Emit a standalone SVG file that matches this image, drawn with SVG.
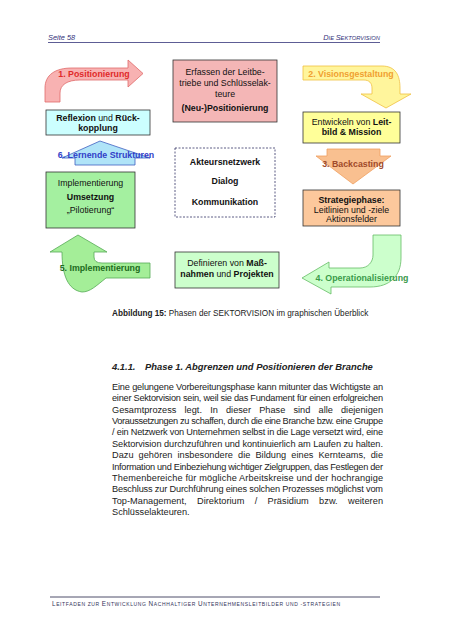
<svg xmlns="http://www.w3.org/2000/svg" width="452" height="640" viewBox="0 0 452 640">
<style>
text{font-family:"Liberation Sans",Arial,sans-serif}
.d{font-size:8.8px;fill:#111;text-anchor:middle}
.b{font-weight:bold}
.box{stroke:#333;stroke-width:0.8}
.lab{font-size:8.8px;font-weight:bold;text-anchor:middle}
.p{font-size:9.2px;fill:#222}
.hd{font-style:italic;fill:#33337a}
.ft{fill:#33335a}
</style>
<rect width="452" height="640" fill="#fff"/>

<g id="header">
<text class="hd" x="48" y="40" font-size="7.4">Seite 58</text>
<text class="hd" x="380" y="40" text-anchor="end" font-size="7.4">D<tspan font-size="5.8">IE </tspan>S<tspan font-size="5.8">EKTORVISION</tspan></text>
<line x1="48" y1="42.5" x2="380" y2="42.5" stroke="#33337a" stroke-width="0.8"/>
</g>

<g id="connectors">
<g id="arrow-1">
<path d="M45,102 L45,88 C45,75 55,68 72,68 L128,68 L128,60 L143,73.5 L128,87 L128,80 L80,80 C67,80 60,85 60,93 L60,102 Z" fill="#f8b2b2" stroke="#e06a6a" stroke-width="0.8"/>
<text class="lab" x="94" y="76.5" fill="#e02a2a">1. Positionierung</text>
</g>
<g id="arrow-2">
<path d="M303,66 L382,66 C396,66 400,76 400,88 L400,94 L411,94 L386,108 L361,94 L372,94 L372,88 C372,83 369,80 364,80 L303,80 Z" fill="#fff59c" stroke="#f0c040" stroke-width="0.8"/>
<text class="lab" x="351" y="76.5" fill="#f0a030">2. Visionsgestaltung</text>
</g>
<g id="arrow-3">
<path d="M327,149 L380,149 L380,156 L391,156 L353,184 L316,156 L327,156 Z" fill="#f9c090" stroke="#f0a060" stroke-width="0.8"/>
<text class="lab" x="353" y="166.5" fill="#a04a2a">3. Backcasting</text>
</g>
<g id="arrow-4">
<path d="M373,235 L401,235 L401,258 C401,276 390,287 370,287 L331,287 L331,294 L302,278 L329,262 L329,268 L360,268 C368,268 373,262 373,255 Z" fill="#ccffcc" stroke="#66bb66" stroke-width="0.8"/>
<text class="lab" x="362" y="280.5" fill="#3a9a4a">4. Operationalisierung</text>
</g>
<g id="arrow-5">
<path d="M78,235 L107,252 L94,252 L94,257 Q94,263 102,263 L150,263 L150,278 L106,278 C96,286 90,292 82,292 C68,290 62,275 62,252 L50,252 Z" fill="#a4ee98" stroke="#55aa55" stroke-width="0.8"/>
<text class="lab" x="100" y="270.5" fill="#206b20">5. Implementierung</text>
</g>
<g id="arrow-6">
<path d="M100,141 L150,158 L135,158 L135,165 L75,165 L75,158 L62,158 Z" fill="#b0e4f8" stroke="#4060c0" stroke-width="0.8"/>
<text class="lab" x="106" y="158" fill="#3040c8">6. Lernende Strukturen</text>
</g>
</g>

<g id="node-erfassen">
<rect class="box" x="173" y="60" width="104" height="62" fill="#f4b6b6"/>
<text class="d" x="225" y="75">Erfassen der Leitbe-</text>
<text class="d" x="225" y="86">triebe und Schlüsselak-</text>
<text class="d" x="225" y="97">teure</text>
<text class="d b" x="225" y="111">(Neu-)Positionierung</text>
</g>

<g id="node-reflexion">
<rect class="box" x="46" y="110" width="104" height="25" fill="#ccffff"/>
<text class="d" x="98" y="120.5"><tspan class="b">Reflexion</tspan> und <tspan class="b">Rück-</tspan></text>
<text class="d b" x="98" y="130.5">kopplung</text>
</g>

<g id="node-akteursnetzwerk">
<rect x="175" y="148" width="100" height="69" fill="#fff" stroke="#333366" stroke-width="0.8" stroke-dasharray="2,1.5"/>
<text class="d b" x="225" y="165">Akteursnetzwerk</text>
<text class="d b" x="225" y="184">Dialog</text>
<text class="d b" x="225" y="205">Kommunikation</text>
</g>

<g id="node-implementierung">
<rect class="box" x="46" y="172" width="89" height="56" fill="#a4f0a0"/>
<text class="d" x="90.5" y="186">Implementierung</text>
<text class="d b" x="90.5" y="200">Umsetzung</text>
<text class="d" x="90.5" y="213">„Pilotierung“</text>
</g>

<g id="node-leitbild">
<rect class="box" x="303" y="112" width="97" height="31" fill="#ffff99"/>
<text class="d" x="351.5" y="124.5">Entwickeln von <tspan class="b">Leit-</tspan></text>
<text class="d b" x="351.5" y="135">bild &amp; Mission</text>
</g>

<g id="node-strategie">
<rect class="box" x="303" y="190" width="97" height="36" fill="#fcc89c"/>
<text class="d b" x="351.5" y="202.5">Strategiephase:</text>
<text class="d" x="351.5" y="212.5">Leitlinien und -ziele</text>
<text class="d" x="351.5" y="222">Aktionsfelder</text>
</g>

<g id="node-massnahmen">
<rect class="box" x="175" y="252" width="104" height="36" fill="#ccffcc"/>
<text class="d" x="227" y="266">Definieren von <tspan class="b">Maß-</tspan></text>
<text class="d" x="227" y="277"><tspan class="b">nahmen</tspan> und <tspan class="b">Projekten</tspan></text>
</g>

<g id="caption">
<text x="112" y="316" font-size="8.2" fill="#222"><tspan font-weight="bold">Abbildung 15:</tspan> Phasen der SEKTORVISION im graphischen Überblick</text>
</g>

<g id="body">
<text x="112" y="370" font-size="9.4" font-weight="bold" font-style="italic" fill="#222">4.1.1.<tspan x="145">Phase 1. Abgrenzen und Positionieren der Branche</tspan></text>
<text class="p" x="112" y="390" textLength="271" lengthAdjust="spacing">Eine gelungene Vorbereitungsphase kann mitunter das Wichtigste an</text>
<text class="p" x="112" y="401.4" textLength="271" lengthAdjust="spacing">einer Sektorvision sein, weil sie das Fundament für einen erfolgreichen</text>
<text class="p" x="112" y="412.7" textLength="271" lengthAdjust="spacing" word-spacing="5.6">Gesamtprozess legt. In dieser Phase sind alle diejenigen</text>
<text class="p" x="112" y="424.1" textLength="271" lengthAdjust="spacing">Voraussetzungen zu schaffen, durch die eine Branche bzw. eine Gruppe</text>
<text class="p" x="112" y="435.4" textLength="271" lengthAdjust="spacing">/ ein Netzwerk von  Unternehmen selbst in die Lage versetzt wird, eine</text>
<text class="p" x="112" y="446.8" textLength="271" lengthAdjust="spacing">Sektorvision  durchzuführen und kontinuierlich am Laufen zu halten.</text>
<text class="p" x="112" y="458.2" textLength="271" lengthAdjust="spacing" word-spacing="2.5">Dazu gehören insbesondere die Bildung eines Kernteams, die</text>
<text class="p" x="112" y="469.5" textLength="271" lengthAdjust="spacing">Information und Einbeziehung wichtiger Zielgruppen, das Festlegen der</text>
<text class="p" x="112" y="480.9" textLength="271" lengthAdjust="spacing">Themenbereiche für mögliche Arbeitskreise und der hochrangige</text>
<text class="p" x="112" y="492.2" textLength="271" lengthAdjust="spacing">Beschluss zur Durchführung eines solchen Prozesses möglichst vom</text>
<text class="p" x="112" y="503.6" textLength="271" lengthAdjust="spacing" word-spacing="7.7">Top-Management, Direktorium / Präsidium bzw. weiteren</text>
<text class="p" x="112" y="515">Schlüsselakteuren.</text>
</g>

<g id="footer">
<line x1="50" y1="597" x2="380" y2="597" stroke="#222244" stroke-width="0.8"/>
<text class="ft" x="52" y="606" font-size="6.3" textLength="288" lengthAdjust="spacing">L<tspan font-size="5">EITFADEN ZUR </tspan>E<tspan font-size="5">NTWICKLUNG </tspan>N<tspan font-size="5">ACHHALTIGER </tspan>U<tspan font-size="5">NTERNEHMENSLEITBILDER UND -STRATEGIEN</tspan></text>
</g>
</svg>
